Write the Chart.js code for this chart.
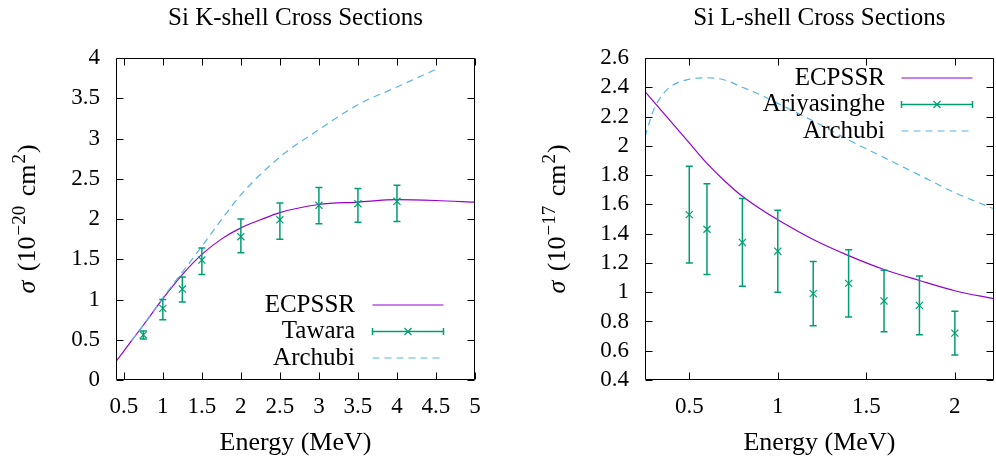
<!DOCTYPE html>
<html><head><meta charset="utf-8">
<script src="https://cdn.jsdelivr.net/npm/chart.js@4.4.1/dist/chart.umd.min.js"></script>
<style>
html,body{margin:0;padding:0;background:#fff;overflow:hidden;width:996px;height:462px;position:relative;}
#c1{position:absolute;left:0;top:0;}
#c2{position:absolute;left:498px;top:0;}
</style></head><body>
<canvas id="c1" width="498" height="462"></canvas>
<canvas id="c2" width="502" height="462"></canvas>
<script>
const FONT = '"Liberation Serif", "DejaVu Serif", serif';

// ---------- Si K-shell ----------
const kTitle = 'Si K-shell Cross Sections';
const kEcpssrE = [0.4, 0.5, 0.6, 0.75, 1.0, 1.25, 1.5, 1.75, 2.0, 2.25, 2.5, 3.0, 3.5, 4.0, 4.5, 5.0];
const kEcpssrS = [0.23, 0.36, 0.49, 0.68, 1.01, 1.31, 1.56, 1.75, 1.89, 1.99, 2.08, 2.18, 2.21, 2.24, 2.23, 2.21];
const kArchubiE = [0.6, 0.75, 1.0, 1.25, 1.5, 1.75, 2.0, 2.5, 3.0, 3.5, 4.0, 4.5];
const kArchubiS = [0.49, 0.68, 1.02, 1.34, 1.66, 1.99, 2.30, 2.77, 3.11, 3.42, 3.64, 3.86];
const kTawaraE = [0.75, 1.0, 1.25, 1.5, 2.0, 2.5, 3.0, 3.5, 4.0];
const kTawaraS = [0.56, 0.89, 1.13, 1.49, 1.78, 1.99, 2.17, 2.19, 2.22];
const kTawaraLo = [0.51, 0.75, 0.97, 1.31, 1.58, 1.75, 1.94, 1.96, 1.97];
const kTawaraHi = [0.61, 1.00, 1.28, 1.64, 2.00, 2.20, 2.39, 2.38, 2.42];
const kXTicks = [0.5, 1, 1.5, 2, 2.5, 3, 3.5, 4, 4.5, 5];
const kYTicks = [0, 0.5, 1, 1.5, 2, 2.5, 3, 3.5, 4];

// ---------- Si L-shell ----------
const lTitle = 'Si L-shell Cross Sections';
const lEcpssrE = [0.25, 0.3, 0.4, 0.5, 0.6, 0.7, 0.8, 0.9, 1.0, 1.2, 1.4, 1.6, 1.8, 2.0, 2.22];
const lEcpssrS = [2.37, 2.30, 2.16, 2.02, 1.88, 1.76, 1.655, 1.57, 1.495, 1.36, 1.25, 1.155, 1.08, 1.01, 0.955];
const lArchubiE = [0.25, 0.28, 0.3, 0.35, 0.4, 0.5, 0.6, 0.7, 0.8, 0.9, 1.0, 1.2, 1.4, 1.6, 1.8, 2.0, 2.22];
const lArchubiS = [2.06, 2.18, 2.25, 2.35, 2.41, 2.455, 2.465, 2.45, 2.40, 2.35, 2.29, 2.17, 2.04, 1.92, 1.80, 1.68, 1.57];
const lAriyE = [0.5, 0.6, 0.8, 1.0, 1.2, 1.4, 1.6, 1.8, 2.0];
const lAriyS = [1.53, 1.43, 1.34, 1.28, 0.99, 1.06, 0.94, 0.91, 0.72];
const lAriyLo = [1.20, 1.12, 1.04, 1.00, 0.77, 0.83, 0.73, 0.71, 0.57];
const lAriyHi = [1.86, 1.74, 1.64, 1.56, 1.21, 1.29, 1.15, 1.11, 0.87];
const lXTicks = [0.5, 1, 1.5, 2];
const lYTicks = [0.4, 0.6, 0.8, 1, 1.2, 1.4, 1.6, 1.8, 2, 2.2, 2.4, 2.6];

const PURPLE = '#9400d3', GREEN = '#009e73', BLUE = '#56b4e9';
const fmt = v => String(+(+v).toFixed(2));
const pts = (xs, ys) => xs.map((x, i) => ({x, y: ys[i]}));

function drawCross(ctx, x, y, r) {
  const o = r * Math.SQRT1_2;
  ctx.beginPath();
  ctx.moveTo(x - o, y - o); ctx.lineTo(x + o, y + o);
  ctx.moveTo(x - o, y + o); ctx.lineTo(x + o, y - o);
  ctx.stroke();
}

function makePlugin(cfg) {
  return {
    id: 'gp_' + cfg.id,
    afterDatasetsDraw(chart) {
      const ctx = chart.ctx, xs = chart.scales.x, ys = chart.scales.y, a = chart.chartArea;
      ctx.save();
      ctx.beginPath(); ctx.rect(a.left, a.top, a.right - a.left, a.bottom - a.top); ctx.clip();
      chart.data.datasets.forEach(ds => {
        if (!ds.errLo) return;
        ctx.strokeStyle = ds.borderColor; ctx.lineWidth = 1.5;
        ds.data.forEach((p, j) => {
          const x = xs.getPixelForValue(p.x);
          const y1 = ys.getPixelForValue(ds.errLo[j]);
          const y2 = ys.getPixelForValue(ds.errHi[j]);
          ctx.beginPath();
          ctx.moveTo(x, y1); ctx.lineTo(x, y2);
          ctx.moveTo(x - 3.5, y1); ctx.lineTo(x + 3.5, y1);
          ctx.moveTo(x - 3.5, y2); ctx.lineTo(x + 3.5, y2);
          ctx.stroke();
        });
      });
      ctx.restore();
      ctx.save();
      ctx.strokeStyle = '#000'; ctx.lineWidth = 1;
      const L = Math.round(a.left) + 0.5, R = Math.round(a.right) - 0.5;
      const T = Math.round(a.top) + 0.5, B = Math.round(a.bottom) - 0.5;
      ctx.beginPath(); ctx.rect(L, T, R - L, B - T); ctx.stroke();
      ctx.beginPath();
      cfg.xTicks.forEach(v => {
        const x = Math.round(xs.getPixelForValue(v)) + 0.5;
        ctx.moveTo(x, B); ctx.lineTo(x, B - 7);
        ctx.moveTo(x, T); ctx.lineTo(x, T + 7);
      });
      cfg.yTicks.forEach(v => {
        const y = Math.round(ys.getPixelForValue(v)) + 0.5;
        ctx.moveTo(L, y); ctx.lineTo(L + 7, y);
        ctx.moveTo(R, y); ctx.lineTo(R - 7, y);
      });
      ctx.stroke();
      ctx.restore();
    },
    afterDraw(chart) {
      const ctx = chart.ctx;
      ctx.save();
      ctx.translate(cfg.yTitleX, (chart.chartArea.top + chart.chartArea.bottom) / 2);
      ctx.rotate(-Math.PI / 2);
      const M = '26px ' + FONT, S = '19px ' + FONT;
      const runs = [
        {t: 'σ', f: 'italic ' + M, dy: 0, gap: 3},
        {t: ' (10', f: M, dy: 0, gap: 1},
        {t: cfg.exp, f: S, dy: -10, gap: 3},
        {t: ' cm', f: M, dy: 0, gap: 1},
        {t: '2', f: S, dy: -10, gap: 1},
        {t: ')', f: M, dy: 0, gap: 0}
      ];
      let tot = 0;
      runs.forEach(r => { ctx.font = r.f; r.w = ctx.measureText(r.t).width + r.gap; tot += r.w; });
      let x = -tot / 2;
      ctx.fillStyle = '#000'; ctx.textBaseline = 'alphabetic';
      runs.forEach(r => { ctx.font = r.f; ctx.fillText(r.t, x, 6 + r.dy); x += r.w; });
      ctx.restore();
      ctx.save();
      ctx.font = '25px ' + FONT; ctx.textAlign = 'right'; ctx.textBaseline = 'middle'; ctx.fillStyle = '#000';
      const lg = cfg.legend;
      lg.order.forEach((di, row) => {
        const ds = chart.data.datasets[di];
        const y = lg.rows[row];
        ctx.fillText(ds.label, lg.textRight, y);
        ctx.strokeStyle = ds.borderColor;
        if (ds.errLo) {
          ctx.lineWidth = 1.5;
          ctx.beginPath();
          ctx.moveTo(lg.s1, y); ctx.lineTo(lg.s2, y);
          ctx.moveTo(lg.s1, y - 3.5); ctx.lineTo(lg.s1, y + 3.5);
          ctx.moveTo(lg.s2, y - 3.5); ctx.lineTo(lg.s2, y + 3.5);
          ctx.stroke();
          ctx.lineWidth = 1.2;
          drawCross(ctx, (lg.s1 + lg.s2) / 2, y, 5);
        } else {
          ctx.lineWidth = ds.borderWidth;
          ctx.setLineDash(ds.borderDash || []);
          ctx.beginPath(); ctx.moveTo(lg.s1, y); ctx.lineTo(lg.s2, y); ctx.stroke();
          ctx.setLineDash([]);
        }
      });
      ctx.restore();
    }
  };
}

function makeChart(canvasId, c) {
  const tickFont = {family: FONT, size: 23};
  return new Chart(document.getElementById(canvasId), {
    type: 'line',
    data: {
      datasets: [
        {label: 'ECPSSR', data: pts(c.ecE, c.ecS), borderColor: PURPLE, borderWidth: 1.2,
         pointRadius: 0, cubicInterpolationMode: 'monotone', fill: false, order: 2},
        {label: c.expLabel, data: pts(c.pE, c.pS), errLo: c.pLo, errHi: c.pHi, borderColor: GREEN,
         backgroundColor: GREEN, showLine: false, pointStyle: 'crossRot', pointRadius: 5,
         pointBorderWidth: 1.2, borderWidth: 1.2, order: 1},
        {label: 'Archubi', data: pts(c.arE, c.arS), borderColor: BLUE, borderWidth: 1.2,
         borderDash: [7, 5], pointRadius: 0, cubicInterpolationMode: 'monotone', fill: false, order: 0}
      ]
    },
    options: {
      responsive: false, animation: false, devicePixelRatio: 1,
      layout: {padding: {left: 0, right: c.padRight, top: 0, bottom: 0}},
      plugins: {
        legend: {display: false}, tooltip: {enabled: false},
        title: {display: true, text: c.title, fullSize: false, color: '#000',
                font: {family: FONT, size: 25, weight: 'normal'}, padding: {top: 3, bottom: 25}}
      },
      scales: {
        x: {type: 'linear', min: c.xMin, max: c.xMax,
            afterBuildTicks: s => { s.ticks = c.xTicks.map(v => ({value: v})); },
            afterFit: s => { s.height = 82; },
            grid: {display: false, drawTicks: false}, border: {display: false},
            ticks: {callback: v => fmt(v), font: tickFont, color: '#000', padding: 13, maxRotation: 0, autoSkip: false},
            title: {display: true, text: 'Energy (MeV)', color: '#000', font: {family: FONT, size: 26}, padding: {top: 4, bottom: 3.4}}},
        y: {type: 'linear', min: c.yMin, max: c.yMax,
            afterBuildTicks: s => { s.ticks = c.yTicks.map(v => ({value: v})); },
            afterFit: s => { s.width = c.yWidth; },
            grid: {display: false, drawTicks: false}, border: {display: false},
            ticks: {callback: v => fmt(v), font: tickFont, color: '#000', padding: 16, autoSkip: false}}
      }
    },
    plugins: [makePlugin(c)]
  });
}

makeChart('c1', {
  id: 'k', title: kTitle, ecE: kEcpssrE, ecS: kEcpssrS, arE: kArchubiE, arS: kArchubiS,
  expLabel: 'Tawara', pE: kTawaraE, pS: kTawaraS, pLo: kTawaraLo, pHi: kTawaraHi,
  xMin: 0.4, xMax: 5, yMin: 0, yMax: 4, xTicks: kXTicks, yTicks: kYTicks,
  yWidth: 116, padRight: 23, yTitleX: 28.5, exp: '−20',
  legend: {order: [0, 1, 2], rows: [305, 331.5, 358], textRight: 355, s1: 372.5, s2: 443.5}
});
makeChart('c2', {
  id: 'l', title: lTitle, ecE: lEcpssrE, ecS: lEcpssrS, arE: lArchubiE, arS: lArchubiS,
  expLabel: 'Ariyasinghe', pE: lAriyE, pS: lAriyS, pLo: lAriyLo, pHi: lAriyHi,
  xMin: 0.25, xMax: 2.22, yMin: 0.4, yMax: 2.6, xTicks: lXTicks, yTicks: lYTicks,
  yWidth: 147, padRight: 0, yTitleX: 60.5, exp: '−17',
  legend: {order: [0, 1, 2], rows: [78, 104.5, 131], textRight: 387, s1: 403.5, s2: 474.5}
});
</script>
</body></html>
